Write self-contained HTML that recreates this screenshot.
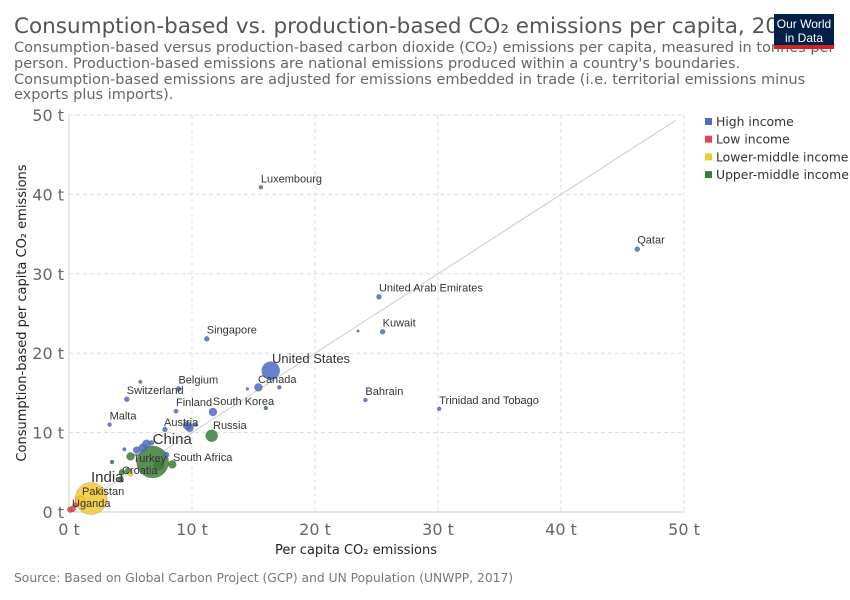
<!DOCTYPE html>
<html><head><meta charset="utf-8"><style>
body{margin:0;background:#fff;font-family:"DejaVu Sans","Liberation Sans",sans-serif;}
svg{display:block}
</style></head><body>
<svg id="chart" width="850" height="600">
<text x="14" y="33" font-size="21.5" fill="#555">Consumption-based vs. production-based CO₂ emissions per capita, 2016</text>
<g font-size="14.5" fill="#666">
<text x="14" y="52">Consumption-based versus production-based carbon dioxide (CO₂) emissions per capita, measured in tonnes per</text>
<text x="14" y="68">person. Production-based emissions are national emissions produced within a country's boundaries.</text>
<text x="14" y="84">Consumption-based emissions are adjusted for emissions embedded in trade (i.e. territorial emissions minus</text>
<text x="14" y="99">exports plus imports).</text>
</g>
<g>
<rect x="774" y="14" width="60" height="31" fill="#002147"/>
<rect x="774" y="45" width="60" height="4" fill="#ce261e"/>
<text x="804" y="28" font-size="12" fill="#fff" text-anchor="middle" font-family="Liberation Sans">Our World</text>
<text x="804" y="42" font-size="12" fill="#fff" text-anchor="middle" font-family="Liberation Sans">in Data</text>
</g>
<g id="grid"></g><g id="axes"></g><g id="marks"></g><g id="labels"></g>
<text x="356" y="554" font-size="13" fill="#222" text-anchor="middle">Per capita CO₂ emissions</text>
<text transform="translate(26,313) rotate(-90)" font-size="13" fill="#222" text-anchor="middle">Consumption-based per capita CO₂ emissions</text>
<text x="14" y="582" font-size="12.3" fill="#777">Source: Based on Global Carbon Project (GCP) and UN Population (UNWPP, 2017)</text>
<g id="legend"></g>
</svg>
<script>
const groups=["High income","Low income","Lower-middle income","Upper-middle income"];
const groupColors=["#4c6bc4","#e0474c","#f2c933","#3e7b3a"];
const xTicks=[0,10,20,30,40,50];
const yTicks=[0,10,20,30,40,50];
const names=["Luxembourg","Qatar","United Arab Emirates","Kuwait","Singapore","United States","Canada","Bahrain","Trinidad and Tobago","Belgium","Switzerland","Finland","South Korea","Malta","Austria","Russia","China","South Africa","Turkey","Croatia","India","Pakistan","Uganda","","","","","","","","","","","","","","","","","","","","","",""];
const prod=[15.6,46.2,25.2,25.5,11.2,16.4,15.4,24.1,30.1,8.9,4.7,8.7,11.7,3.3,9.8,11.6,6.8,8.4,5.0,4.3,1.8,0.9,0.1,5.8,17.1,14.5,23.5,16.0,7.8,9.6,7.9,6.0,6.3,5.5,4.5,4.8,3.5,4.2,7.3,5.0,2.5,0.3,0.5,10.3,6.7];
const cons=[40.9,33.1,27.1,22.7,21.8,17.8,15.7,14.1,13.0,15.5,14.2,12.7,12.6,11.0,10.6,9.6,6.3,6.0,7.0,5.0,1.7,1.4,0.3,16.4,15.7,15.5,22.8,13.1,10.4,10.9,7.2,8.1,8.6,7.8,7.9,5.2,6.3,4.1,5.9,4.8,2.6,0.4,0.9,11.0,8.7];
const grp=[0,0,0,0,0,0,0,0,0,0,0,0,0,0,0,3,3,3,3,3,2,2,1,0,0,0,0,3,0,0,0,0,0,0,0,3,3,3,3,2,2,1,1,0,0];
const radius=[2,2.5,2.5,2.5,2.5,9,4,2,2,2.5,2.5,2.2,4,2,4,6,16,4,4,3,16,5,3,1.8,2,1.5,1.3,2,2.5,4,3,4,4,3.5,1.8,3,2,3,5,2.5,3,3,2.5,2,2.5];
const X=v=>69+v*12.3, Y=v=>512-v*7.94;
const NS="http://www.w3.org/2000/svg";
function mk(t,a,p){const e=document.createElementNS(NS,t);for(const k in a)e.setAttribute(k,a[k]);p.appendChild(e);return e;}
const grid=document.getElementById('grid'),axes=document.getElementById('axes'),marks=document.getElementById('marks'),labels=document.getElementById('labels'),legend=document.getElementById('legend');
xTicks.forEach(t=>{
 if(t>0){const l=mk('line',{x1:X(t),x2:X(t),y1:Y(50),y2:Y(0),stroke:'#ddd','stroke-dasharray':'4,3'},grid);
 
 }
 const tx=mk('text',{x:X(t),y:535,'font-size':16,fill:'#666','text-anchor':'middle'},axes);tx.textContent=t+' t';
 
 
});
yTicks.forEach(t=>{
 if(t>0){const l=mk('line',{x1:X(0),x2:X(50),y1:Y(t),y2:Y(t),stroke:'#ddd','stroke-dasharray':'4,3'},grid);
 
 }
 const tx=mk('text',{x:64,y:Y(t)+6,'font-size':16,fill:'#666','text-anchor':'end'},axes);tx.textContent=t+' t';
 
 
});
const ax=mk('line',{x1:X(0),x2:X(50),y1:Y(0),y2:Y(0),stroke:'#ccc'},axes);


const ay=mk('line',{x1:X(0),x2:X(0),y1:Y(0),y2:Y(50),stroke:'#ccc'},axes);


const dl=mk('line',{x1:X(0),y1:Y(0),x2:X(49.3),y2:Y(49.3),stroke:'#ccc'},axes);


const order=prod.map((_,i)=>i).sort((a,b)=>radius[b]-radius[a]);
order.forEach(i=>{
 const c=mk('circle',{cx:X(prod[i]),cy:Y(cons[i]),r:radius[i],fill:groupColors[grp[i]],'fill-opacity':0.85,stroke:'#333','stroke-opacity':0.35,'stroke-width':0.5},marks);
 
 
});
names.forEach((n,i)=>{
 if(!n)return;
 const big=(n==='China'||n==='India'||n==='United States');
 const fs=big?(n==='United States'?13:15):11;
 const t=mk('text',{x:X(prod[i]),y:Y(cons[i])-radius[i]-3,'font-size':fs,fill:'#333','font-family':'Liberation Sans, sans-serif'},labels);
 if(n==='China'){t.setAttribute('y',Y(cons[i])-18);}
 if(n==='India'){t.setAttribute('x',91);t.setAttribute('y',482);}
 if(n==='United States'){t.setAttribute('x',272);t.setAttribute('y',363);}
 if(n==='Turkey'){t.setAttribute('x',133);t.setAttribute('y',462);}
 if(n==='Croatia'){t.setAttribute('x',122);t.setAttribute('y',474);}
 if(n==='South Africa'){t.setAttribute('x',173);t.setAttribute('y',461);}
 if(n==='Pakistan'){t.setAttribute('x',82);t.setAttribute('y',495);}
 if(n==='Uganda'){t.setAttribute('x',72);t.setAttribute('y',507);}
 if(n==='Russia'){t.setAttribute('x',213);t.setAttribute('y',429);}
 if(n==='Austria'){t.setAttribute('x',164);t.setAttribute('y',426);}
 if(n==='Canada'){t.setAttribute('x',258);t.setAttribute('y',383);}
 t.textContent=n;
 
 
});
groups.forEach((g,i)=>{
 const r=mk('rect',{x:705,y:118+i*17.7,width:7,height:7,fill:groupColors[i]},legend);
 
 
 const t=mk('text',{x:716,y:126+i*17.7,'font-size':12.4,fill:'#333'},legend);t.textContent=g;
 
 
});
</script>
</body></html>
